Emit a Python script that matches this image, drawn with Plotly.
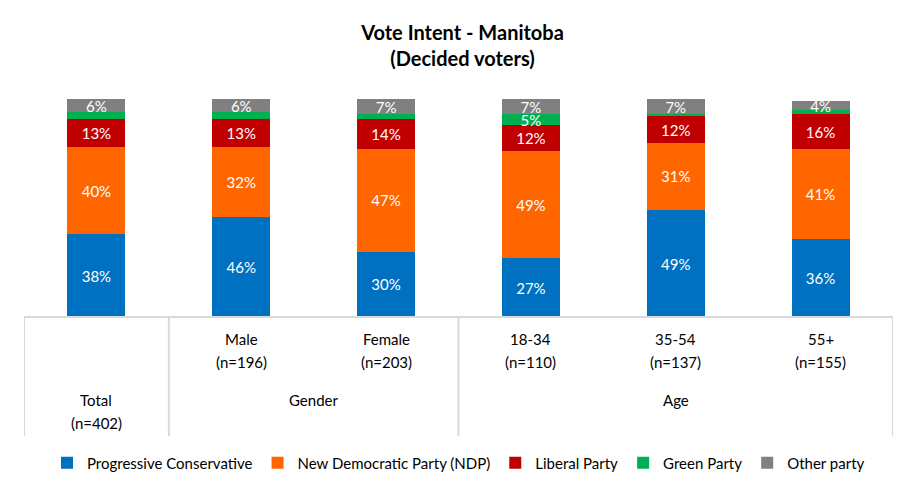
import plotly.graph_objects as go

categories = ["Total", "Male", "Female", "18-34", "35-54", "55+"]
sample_sizes = ["(n=402)", "(n=196)", "(n=203)", "(n=110)", "(n=137)", "(n=155)"]
group_labels = ["Gender", "Age"]
group_members = [[1, 2], [3, 4, 5]]

series_names = ["Progressive Conservative", "New Democratic Party (NDP)", "Liberal Party", "Green Party", "Other party"]
pc = [38, 46, 30, 27, 49, 36]
ndp = [40, 32, 47, 49, 31, 41]
lib = [13, 13, 14, 12, 12, 16]
green = [3, 3, 2, 5, 1, 2]
other = [6, 6, 7, 7, 7, 4]
colors = ["#0070C0", "#FF6600", "#C00000", "#00B050", "#808080"]

FONT = "Lato"
OFF = 8  # default page body margin
W, H = 917 - OFF, 495 - OFF
ML, MR, MT, MB = 24 - OFF, 24, 99 - OFF, 178
plot_h = H - MT - MB

def py(px):
    """window pixel y -> paper y"""
    return (H - MB - (px - OFF)) / plot_h

fig = go.Figure()
for name, vals, col in zip(series_names, [pc, ndp, lib, green, other], colors):
    txt = [f"{v}%" if (v >= 4 and name != "Green Party") or v >= 5 else "" for v in vals]
    fig.add_trace(go.Bar(
        x=list(range(len(categories))), y=vals, name=name,
        marker=dict(color=col, line=dict(width=0)),
        text=txt, textposition="inside", insidetextanchor="middle",
        constraintext="none", cliponaxis=False,
        textfont=dict(color="white", size=15, family=FONT),
        hoverinfo="skip",
    ))

fig.update_layout(
    barmode="stack", bargap=0.6,
    width=W, height=H,
    margin=dict(l=ML, r=MR, t=MT, b=MB),
    paper_bgcolor="white", plot_bgcolor="white",
    font=dict(family=FONT, size=15, color="black"),
    title=dict(text="<b>Vote Intent - Manitoba<br>(Decided voters)</b>",
               x=0.5, xanchor="center", y=1 - 32 / H, yanchor="middle",
               font=dict(family=FONT, size=20, color="black")),
    xaxis=dict(range=[-0.5, 5.5], showticklabels=False, showgrid=False,
               zeroline=False, showline=False, fixedrange=True),
    yaxis=dict(range=[0, 100], showticklabels=False, showgrid=False,
               zeroline=False, showline=False, fixedrange=True),
    legend=dict(orientation="h", x=0.5, xanchor="center", y=py(463), yanchor="middle",
                font=dict(family=FONT, size=15, color="black"),
                traceorder="normal", itemwidth=30, tracegroupgap=0),
    showlegend=True,
)

line_col = "#D9D9D9"
fig.add_shape(type="line", xref="x", yref="paper", x0=-0.5, x1=5.5, y0=0, y1=0,
              line=dict(color=line_col, width=2))
for xv in [-0.5, 0.5, 2.5, 5.5]:
    fig.add_shape(type="line", xref="x", yref="paper", x0=xv, x1=xv, y0=0, y1=py(436),
                  line=dict(color=line_col, width=2))

for i, (c, n) in enumerate(zip(categories, sample_sizes)):
    if i == 0:
        y1, y2 = py(400), py(423)
    else:
        y1, y2 = py(339), py(362)
    fig.add_annotation(x=i, y=y1, xref="x", yref="paper", text=c, showarrow=False,
                       yanchor="middle", font=dict(size=15, family=FONT, color="black"))
    fig.add_annotation(x=i, y=y2, xref="x", yref="paper", text=n, showarrow=False,
                       yanchor="middle", font=dict(size=15, family=FONT, color="black"))

for g, members in zip(group_labels, group_members):
    xc = sum(members) / len(members)
    fig.add_annotation(x=xc, y=py(400), xref="x", yref="paper", text=g, showarrow=False,
                       yanchor="middle", font=dict(size=15, family=FONT, color="black"))

fig.write_html("out.html")
